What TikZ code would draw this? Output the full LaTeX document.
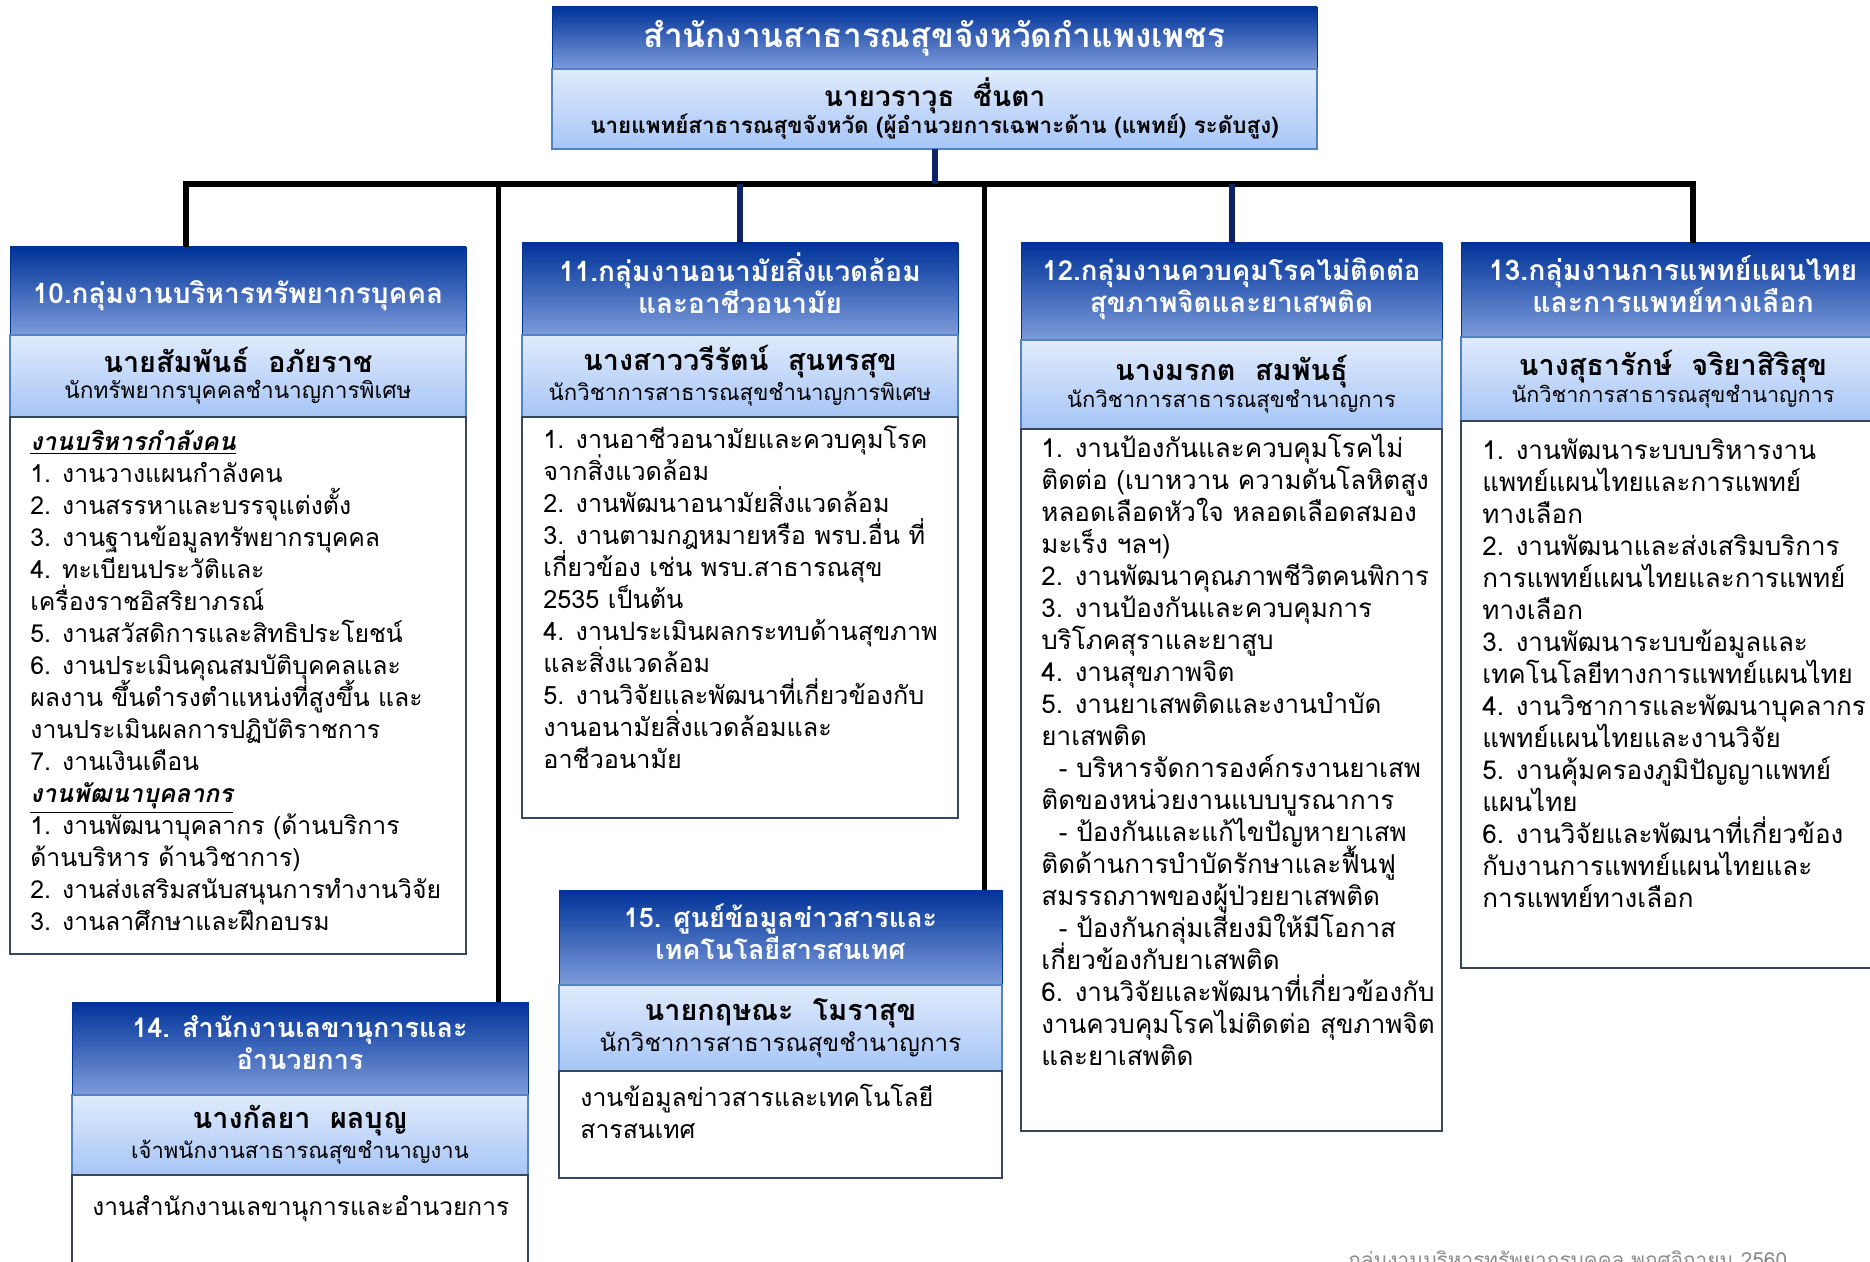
\documentclass[tikz,border=0pt]{standalone}
\usepackage{fontspec}
\setmainfont[Script=Thai]{Loma}
\usepackage{tikz}
\usetikzlibrary{positioning}

\definecolor{navy}{RGB}{0,51,153}
\definecolor{navylow}{RGB}{125,155,218}
\definecolor{linkblue}{RGB}{12,35,102}
\definecolor{nametop}{RGB}{224,235,252}
\definecolor{namebot}{RGB}{166,197,246}
\definecolor{nameline}{RGB}{84,130,196}
\definecolor{bodyline}{RGB}{55,70,90}

\newcommand{\fs}[2]{\fontsize{#1}{#2}\selectfont\lineskiplimit=-20pt}
\newcommand{\nm}{\fs{14.4}{16}\bfseries}

\begin{document}
\begin{tikzpicture}[x=0.5pt,y=-0.5pt,
  head/.style={draw=navy, top color=navy, middle color=navy, bottom color=navylow,
    text=white, align=center, inner sep=0pt, outer sep=0pt, font=\fs{14}{16}\bfseries},
  headtwo/.style={head, text depth=6pt},
  namebox/.style={draw=nameline, top color=nametop, bottom color=namebot,
    align=center, inner sep=0pt, outer sep=0pt, line width=0.8pt},
  bodybox/.style={draw=bodyline, fill=white, inner sep=0pt, outer sep=0pt, line width=0.6pt},
  list/.style={anchor=north west, align=left, inner sep=0pt, font=\fs{12.4}{16}},
  bar/.style={line width=3pt, black},
  link/.style={line width=2.5pt, black},
  blink/.style={line width=3pt, linkblue}]
\useasboundingbox (0,0) rectangle (1870,1262);

% top box
\node[head, minimum width=382.5pt, minimum height=31pt, anchor=north west, font=\fs{16.7}{18}\bfseries] (toph) at (552,7) {สำนักงานสาธารณสุขจังหวัดกำแพงเพชร};
\node[namebox, minimum width=382.5pt, minimum height=40pt, below=0pt of toph] (topn)
  {{\fs{14}{16}\bfseries นายวราวุธ\ \ ชื่นตา}\\[-1pt]{\fs{11.2}{14}\bfseries นายแพทย์สาธารณสุขจังหวัด (ผู้อำนวยการเฉพาะด้าน (แพทย์) ระดับสูง)}};

% group 10
\node[head, minimum width=228pt, minimum height=44pt, anchor=north west, text height=16pt] (h10) at (10,247) {10.กลุ่มงานบริหารทรัพยากรบุคคล};
\node[namebox, minimum width=228pt, minimum height=41pt, below=0pt of h10] (n10)
  {{\nm นายสัมพันธ์\ \ อภัยราช}\\[1pt]{\fs{11.3}{14}นักทรัพยากรบุคคลชำนาญการพิเศษ}};
\node[bodybox, minimum width=228pt, minimum height=268.5pt, below=0pt of n10] (b10) {};
\node[list] (t10) at (30,430) {\textbf{\textit{\underline{งานบริหารกำลังคน}}}\\
1. งานวางแผนกำลังคน\\
2. งานสรรหาและบรรจุแต่งตั้ง\\
3. งานฐานข้อมูลทรัพยากรบุคคล\\
4. ทะเบียนประวัติและ\\
เครื่องราชอิสริยาภรณ์\\
5. งานสวัสดิการและสิทธิประโยชน์\\
6. งานประเมินคุณสมบัติบุคคลและ\\
ผลงาน ขึ้นดำรงตำแหน่งที่สูงขึ้น และ\\
งานประเมินผลการปฏิบัติราชการ\\
7. งานเงินเดือน\\
\textbf{\textit{\underline{งานพัฒนาบุคลากร}}}\\
1. งานพัฒนาบุคลากร (ด้านบริการ\\
ด้านบริหาร ด้านวิชาการ)\\
2. งานส่งเสริมสนับสนุนการทำงานวิจัย\\
3. งานลาศึกษาและฝึกอบรม};

% group 11
\node[headtwo, minimum width=218pt, minimum height=46pt, anchor=north west] (h11) at (522,243) {11.กลุ่มงานอนามัยสิ่งแวดล้อม\\และอาชีวอนามัย};
\node[namebox, minimum width=218pt, minimum height=41pt, below=0pt of h11] (n11)
  {{\nm นางสาววรีรัตน์\ \ สุนทรสุข}\\[1pt]{\fs{11.1}{14}นักวิชาการสาธารณสุขชำนาญการพิเศษ}};
\node[bodybox, minimum width=218pt, minimum height=200.5pt, below=0pt of n11] (b11) {};
\node[list, font=\fs{12.6}{16}] (t11) at (543,425) {1. งานอาชีวอนามัยและควบคุมโรค\\
จากสิ่งแวดล้อม\\
2. งานพัฒนาอนามัยสิ่งแวดล้อม\\
3. งานตามกฎหมายหรือ พรบ.อื่น ที่\\
เกี่ยวข้อง เช่น พรบ.สาธารณสุข\\
2535 เป็นต้น\\
4. งานประเมินผลกระทบด้านสุขภาพ\\
และสิ่งแวดล้อม\\
5. งานวิจัยและพัฒนาที่เกี่ยวข้องกับ\\
งานอนามัยสิ่งแวดล้อมและ\\
อาชีวอนามัย};

% group 12
\node[headtwo, minimum width=210.5pt, minimum height=48.5pt, anchor=north west, font=\fs{13.8}{16}\bfseries] (h12) at (1021,243) {12.กลุ่มงานควบคุมโรคไม่ติดต่อ\\สุขภาพจิตและยาเสพติด};
\node[namebox, minimum width=210.5pt, minimum height=44.5pt, below=0pt of h12] (n12)
  {{\nm นางมรกต\ \ สมพันธุ์}\\{\fs{11}{14}นักวิชาการสาธารณสุขชำนาญการ}};
\node[bodybox, minimum width=210.5pt, minimum height=351pt, below=0pt of n12] (b12) {};
\node[list, font=\fs{13}{16}] (t12) at (1041,434) {1. งานป้องกันและควบคุมโรคไม่\\
ติดต่อ (เบาหวาน ความดันโลหิตสูง\\
หลอดเลือดหัวใจ หลอดเลือดสมอง\\
มะเร็ง ฯลฯ)\\
2. งานพัฒนาคุณภาพชีวิตคนพิการ\\
3. งานป้องกันและควบคุมการ\\
บริโภคสุราและยาสูบ\\
4. งานสุขภาพจิต\\
5. งานยาเสพติดและงานบำบัด\\
ยาเสพติด\\
\ \ - บริหารจัดการองค์กรงานยาเสพ\\
ติดของหน่วยงานแบบบูรณาการ\\
\ \ - ป้องกันและแก้ไขปัญหายาเสพ\\
ติดด้านการบำบัดรักษาและฟื้นฟู\\
สมรรถภาพของผู้ป่วยยาเสพติด\\
\ \ - ป้องกันกลุ่มเสี่ยงมิให้มีโอกาส\\
เกี่ยวข้องกับยาเสพติด\\
6. งานวิจัยและพัฒนาที่เกี่ยวข้องกับ\\
งานควบคุมโรคไม่ติดต่อ สุขภาพจิต\\
และยาเสพติด};

% group 13
\node[headtwo, minimum width=212pt, minimum height=47pt, anchor=north west, font=\fs{14.2}{16}\bfseries] (h13) at (1461,243) {13.กลุ่มงานการแพทย์แผนไทย\\และการแพทย์ทางเลือก};
\node[namebox, minimum width=212pt, minimum height=42pt, below=0pt of h13] (n13)
  {{\nm นางสุธารักษ์\ \ จริยาสิริสุข}\\{\fs{10.8}{14}นักวิชาการสาธารณสุขชำนาญการ}};
\node[bodybox, minimum width=212pt, minimum height=273.5pt, below=0pt of n13] (b13) {};
\node[list, font=\fs{13}{16}] (t13) at (1482,438) {1. งานพัฒนาระบบบริหารงาน\\
แพทย์แผนไทยและการแพทย์\\
ทางเลือก\\
2. งานพัฒนาและส่งเสริมบริการ\\
การแพทย์แผนไทยและการแพทย์\\
ทางเลือก\\
3. งานพัฒนาระบบข้อมูลและ\\
เทคโนโลยีทางการแพทย์แผนไทย\\
4. งานวิชาการและพัฒนาบุคลากร\\
แพทย์แผนไทยและงานวิจัย\\
5. งานคุ้มครองภูมิปัญญาแพทย์\\
แผนไทย\\
6. งานวิจัยและพัฒนาที่เกี่ยวข้อง\\
กับงานการแพทย์แผนไทยและ\\
การแพทย์ทางเลือก};

% group 15
\node[headtwo, minimum width=221.5pt, minimum height=47.5pt, anchor=north west, font=\fs{13.5}{16}\bfseries] (h15) at (559,890) {15. ศูนย์ข้อมูลข่าวสารและ\\เทคโนโลยีสารสนเทศ};
\node[namebox, minimum width=221.5pt, minimum height=43pt, below=0pt of h15] (n15)
  {{\nm นายกฤษณะ\ \ โมราสุข}\\[1pt]{\fs{12.1}{15}นักวิชาการสาธารณสุขชำนาญการ}};
\node[bodybox, minimum width=221.5pt, minimum height=53.5pt, below=0pt of n15] (b15) {};
\node[list] (t15) at (580,1084) {งานข้อมูลข่าวสารและเทคโนโลยี\\สารสนเทศ};

% group 14
\node[headtwo, minimum width=228pt, minimum height=46.5pt, anchor=north west, font=\fs{13.5}{16}\bfseries] (h14) at (72,1002) {14. สำนักงานเลขานุการและ\\อำนวยการ};
\node[namebox, minimum width=228pt, minimum height=40pt, below=0pt of h14] (n14)
  {{\nm นางกัลยา\ \ ผลบุญ}\\[1pt]{\fs{11}{15}เจ้าพนักงานสาธารณสุขชำนาญงาน}};
\node[bodybox, minimum width=228pt, minimum height=60pt, below=0pt of n14] (b14) {};
\node[list, font=\fs{12.25}{16}] (t14) at (92,1195) {งานสำนักงานเลขานุการและอำนวยการ};

% connectors
\coordinate (jl) at (186,184);
\coordinate (jr) at (1693,184);
\draw[bar] (jl |- h10.north) -- (jl) -- (jr) -- (jr |- h13.north);
\draw[link] (h14.north -| 498,0) -- (498,184);
\draw[link] (h15.north -| 984,0) -- (984,184);
\draw[blink] (h11.north) -- (h11.north |- jl);
\draw[blink] (h12.north) -- (h12.north |- jl);
\draw[blink] (topn.south) -- (topn.south |- jl);

\node[anchor=north west, inner sep=0pt, text=black!45, font=\fs{10.4}{14}] (foot) at (1348,1250) {กลุ่มงานบริหารทรัพยากรบุคคล พฤศจิกายน 2560};
\end{tikzpicture}
\end{document}
